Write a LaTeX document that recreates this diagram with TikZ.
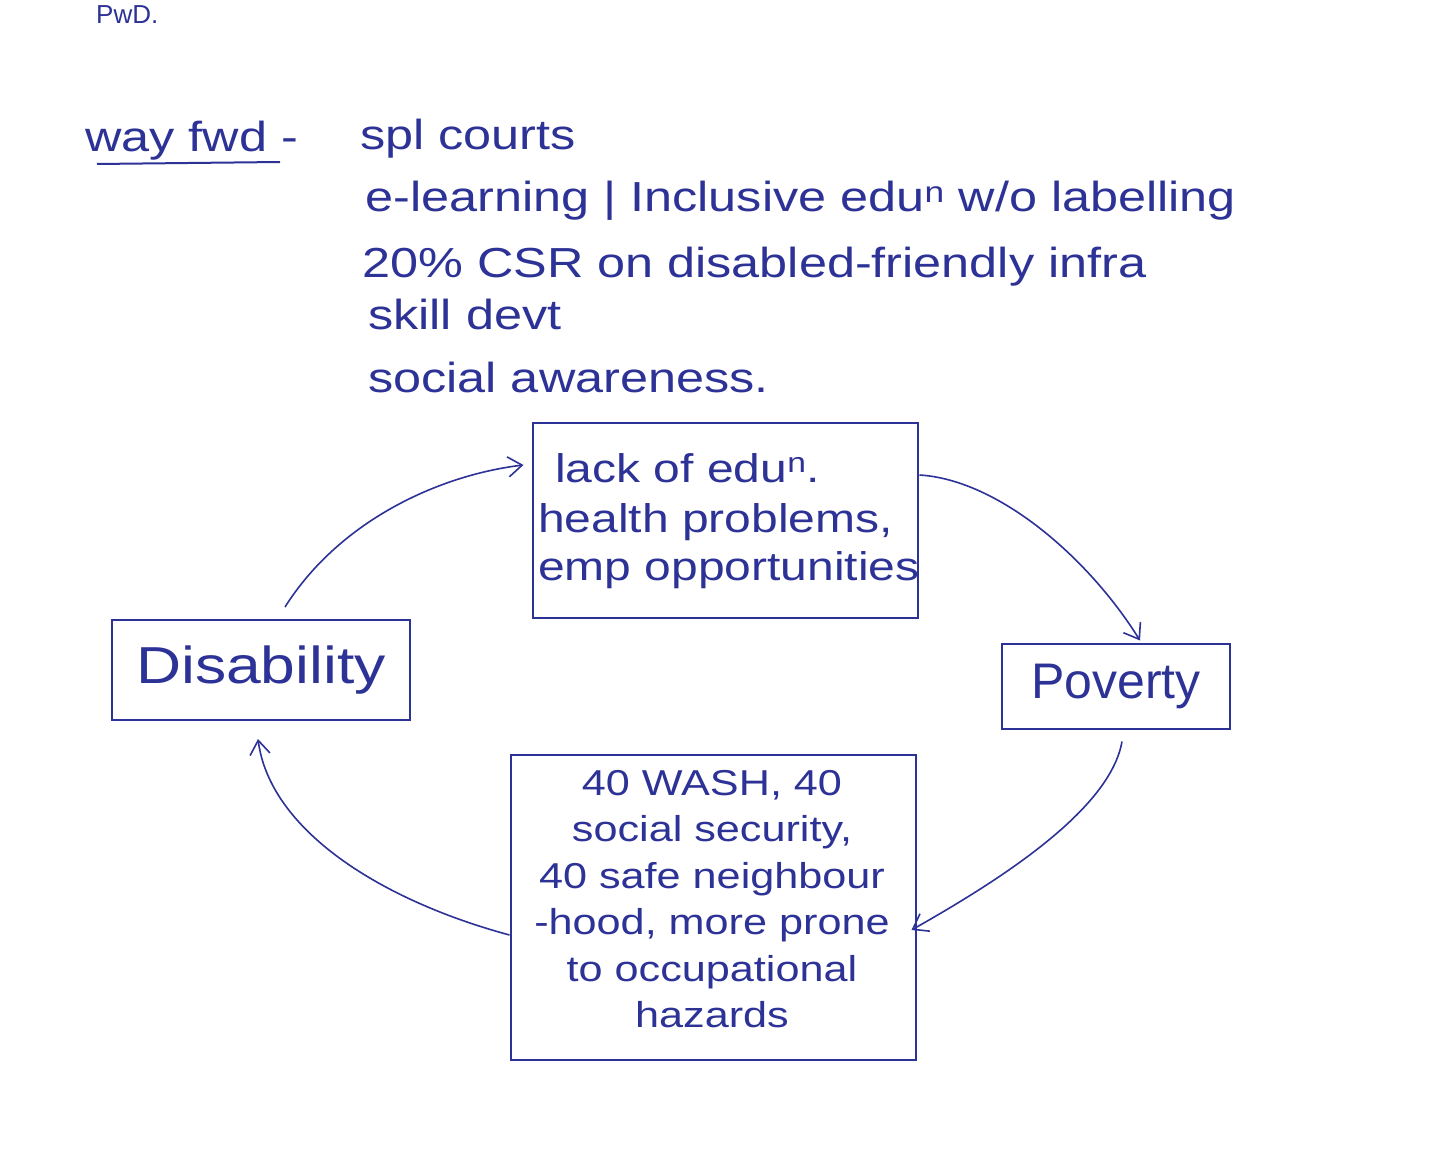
\documentclass[tikz,border=0pt]{standalone}
\usepackage{fontspec}
\setmainfont{Liberation Sans}
\newfontfamily\wide[FakeStretch=1.2]{Liberation Sans}
\usetikzlibrary{arrows.meta}
\definecolor{ink}{RGB}{45,50,150}
\begin{document}
\begin{tikzpicture}[x=1pt,y=-1pt,
  every node/.style={text=ink,inner sep=0pt},
  hand/.style={font=\wide\fontsize{42}{50}\selectfont,anchor=base west},
  boxtext/.style={font=\wide\fontsize{40}{50}\selectfont,anchor=base west},
  boxed/.style={draw=ink,line width=2pt},
  arr/.style={draw=ink,line width=1.6pt,-{Straight Barb[length=14pt,width=20pt,line width=1.6pt]}}]
\useasboundingbox[fill=white] (0,0) rectangle (1452,1150);
% header
\node[font=\fontsize{26}{30}\selectfont,anchor=base west] (pwd) at (96,24) {PwD.};
\node[hand] (wf) at (85,152) {way fwd -};
\draw[ink,line width=2pt] ([xshift=12pt,yshift=-12pt]wf.base west) -- ([xshift=195pt,yshift=-10pt]wf.base west);
\node[hand] (l1) at (360,150) {spl courts};
\node[hand] (l2) at (365,212) {e-learning | Inclusive edu\textsuperscript{n} w/o labelling};
\node[hand] (l3) at (362,278) {20\% CSR on disabled-friendly infra};
\node[hand] (l4) at (368,330) {skill devt};
\node[hand] (l5) at (368,393) {social awareness.};
% boxes
\node[boxed,minimum width=385pt,minimum height=195pt] (lack) at (725,520) {};
\node[boxtext] (lt1) at (555,482) {lack of edu\textsuperscript{n}.};
\node[boxtext] (lt2) at (538,532) {health problems,};
\node[boxtext] (lt3) at (538,580) {emp opportunities};
\node[boxed,minimum width=298pt,minimum height=100pt,font=\wide\fontsize{52}{56}\selectfont] (dis) at (261,670) {Disability};
\node[boxed,minimum width=228pt,minimum height=85pt,font=\fontsize{50}{56}\selectfont] (pov) at (1116,686) {Poverty};
\node[boxed,minimum width=405pt,minimum height=305pt] (bot) at (713,907) {};
\node[font=\wide\fontsize{36}{46.5}\selectfont,align=center,anchor=north] (bt) at (712,770)
  {40 WASH, 40\\ social security,\\ 40 safe neighbour\\ -hood, more prone\\ to occupational\\ hazards};
% cycle arrows
\draw[arr] ([xshift=24pt,yshift=12pt]dis.north) .. controls (340,520) and (440,475) .. ([xshift=-8pt,yshift=55pt]lack.west);
\draw[arr] ([xshift=1pt,yshift=45pt]lack.east) .. controls (1000,480) and (1090,560) .. ([xshift=24pt,yshift=2pt]pov.north);
\draw[arr] ([xshift=6pt,yshift=-12pt]pov.south) .. controls (1110,810) and (1000,880) .. ([xshift=-5pt,yshift=-23pt]bot.east);
\draw[arr] ([yshift=-28pt]bot.west) .. controls (380,900) and (270,830) .. ([xshift=-3pt,yshift=-18pt]dis.south);
\end{tikzpicture}
\end{document}
